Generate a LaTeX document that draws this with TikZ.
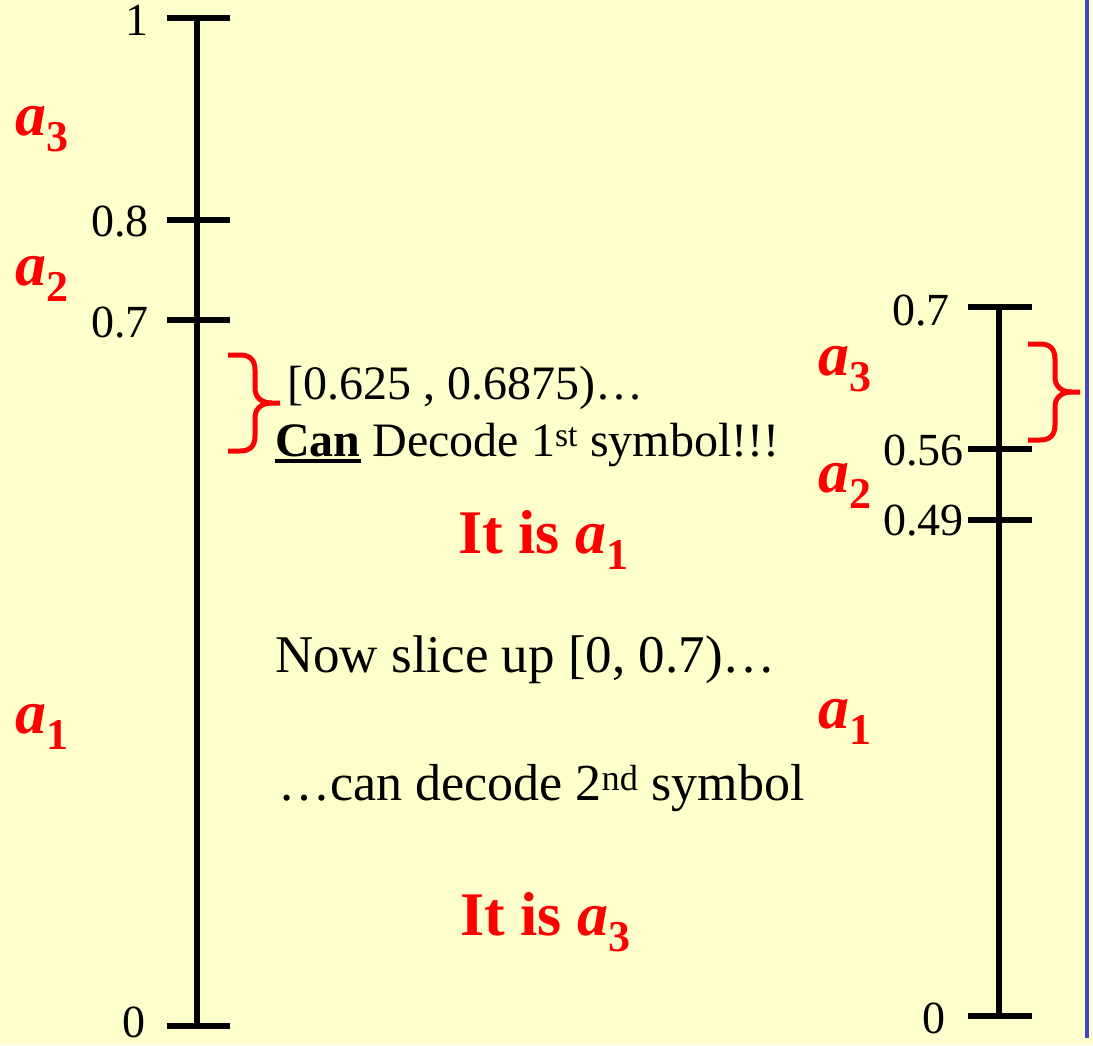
\documentclass[tikz,border=0pt]{standalone}
\usepackage{fontspec}
\setmainfont{Liberation Serif}
\usepackage{xcolor}
\usetikzlibrary{positioning}
\definecolor{slideYellow}{RGB}{255,255,204}
\definecolor{slideBlue}{RGB}{68,68,204}
\newcommand{\asym}[1]{\textbf{\textit{a}}\raisebox{-0.26em}{\fontsize{44}{44}\selectfont\bfseries #1}}
\newcommand{\thickul}[1]{\setbox0\hbox{#1}\rlap{\rule[-0.15em]{\wd0}{0.08em}}\box0\relax}
\tikzset{
    axisLine/.style={line width=6pt, black},
    numLabel/.style={anchor=east, inner sep=0pt, font=\fontsize{46}{52}\selectfont},
    symLabel/.style={anchor=base west, inner sep=0pt, text=red, font=\fontsize{62}{68}\selectfont},
    bodyText/.style={anchor=base west, inner sep=0pt, font=\fontsize{48}{56}\selectfont},
    bigText/.style={bodyText, font=\fontsize{53}{60}\selectfont},
    redBrace/.style={red, line width=5pt},
    pics/rbrace/.style={code={
        \draw[redBrace] (-52,-48) -- (-40,-48) .. controls (-30,-48) and (-25,-43) .. (-25,-33)
            -- (-25,-15) .. controls (-25,-5) and (-18,0) .. (-8,0) -- (0,0);
        \draw[redBrace] (-52,48) -- (-40,48) .. controls (-30,48) and (-25,43) .. (-25,33)
            -- (-25,15) .. controls (-25,5) and (-18,0) .. (-8,0);
    }}
}

\begin{document}
\begin{tikzpicture}[x=1pt,y=-1pt]
    \useasboundingbox (0,0) rectangle (1093,1045);
    \fill[slideYellow] (0,0) rectangle (1093,1045);
    \draw[slideBlue, line width=4pt] (1087,0) -- (1087,1038);

    % --- first interval [0,1) ---
    \begin{scope}
        \coordinate (top) at (197,18); \coordinate (bot) at (197,1026);
        \draw[axisLine] (top)--(bot);
        \foreach \v in {1,0.8,0.7}{
            \draw[axisLine] (167,{1026-1008*\v}) -- (230,{1026-1008*\v});
            \node[numLabel] at (149,{1028-1008*\v}) {\v};
        }
        \draw[axisLine] (167,1026) -- (230,1026);
        \node[numLabel] (l0) at (146,1022) {0};
        \node[symLabel] (la3) at (15,135) {\asym{3}};
        \node[symLabel] (la2) at (15,285) {\asym{2}};
        \node[symLabel] (la1) at (15,733) {\asym{1}};
        \pic at (280,403) {rbrace};
    \end{scope}

    % --- text in the middle ---
    \node[bodyText] (range) at (287,399) {[0.625 , 0.6875)…};
    \node[bodyText] (can) at (275,456) {\thickul{\textbf{Can}} Decode 1\textsuperscript{st} symbol!!!};
    \node[symLabel, font=\fontsize{62}{68}\selectfont\bfseries] (first) at (458,553) {It is \asym{1}};
    \node[bigText] (slice) at (275,672) {Now slice up [0, 0.7)…};
    \node[bodyText, font=\fontsize{52}{60}\selectfont] (second) at (278,800) {…can decode 2\textsuperscript{nd} symbol};
    \node[symLabel, font=\fontsize{62}{68}\selectfont\bfseries] (third) at (460,935) {It is \asym{3}};

    % --- second interval [0,0.7) ---
    \begin{scope}
        \coordinate (top2) at (999,307); \coordinate (bot2) at (999,1016);
        \draw[axisLine] (top2)--(bot2);
        \foreach \v in {0.7,0.56,0.49,0}{
            \draw[axisLine] (968,{1016-1013*\v}) -- (1032,{1016-1013*\v});
        }
        \node[numLabel] (r07) at (950,311) {0.7};
        \node[numLabel] (r056) at (964,451) {0.56};
        \node[numLabel] (r049) at (964,521) {0.49};
        \node[numLabel] (r0) at (946,1018) {0};
        \node[symLabel] (ra3) at (818,375) {\asym{3}};
        \node[symLabel] (ra2) at (818,492) {\asym{2}};
        \node[symLabel] (ra1) at (818,728) {\asym{1}};
        \pic at (1080,392) {rbrace};
    \end{scope}
\end{tikzpicture}
\end{document}
